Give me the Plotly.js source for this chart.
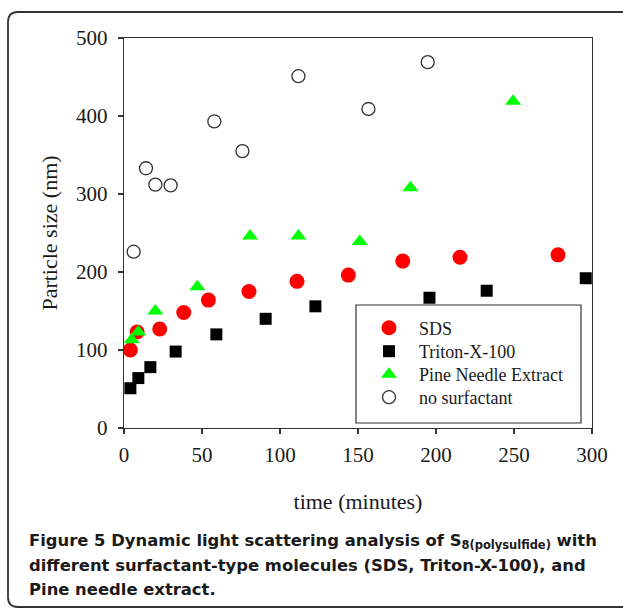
<!DOCTYPE html>
<html>
<head>
<meta charset="utf-8">
<script src="https://cdn.plot.ly/plotly-3.0.1.min.js"></script>
<style>
  html, body { margin: 0; padding: 0; background: #fff; }
  #chart { width: 623px; height: 611px; }
</style>
</head>
<body>
<div id="chart"></div>
<script>
// ---- data ----
const sdsTime    = [4.1, 8.4, 22.9, 38.3, 54.1, 80.1, 110.9, 143.8, 178.7, 215.4, 278.2];
const sdsSize    = [100, 123, 127, 148, 164, 175, 188, 196, 214, 219, 222];

const tritonTime = [4.1, 9.2, 16.9, 33.1, 59.2, 90.8, 122.7, 195.8, 232.5, 296];
const tritonSize = [51, 64, 78, 98, 120, 140, 156, 167, 176, 192];

const pineTime   = [4.9, 9.2, 20.1, 47.0, 80.8, 111.8, 151.1, 183.6, 249.4];
const pineSize   = [113, 123, 150, 181, 246, 246, 239, 308, 419];

const noneTime   = [6.2, 14.1, 20.1, 29.9, 57.9, 75.9, 111.8, 156.7, 194.7];
const noneSize   = [226, 333, 312, 311, 393, 355, 451, 409, 469];

const seriesNames = ["SDS", "Triton-X-100", "Pine Needle Extract", "no surfactant"];
const xTicks = [0, 50, 100, 150, 200, 250, 300];
const yTicks = [0, 100, 200, 300, 400, 500];

const xTitle = "time (minutes)";
const yTitle = "Particle size (nm)";
const captionLines = [
  "<b>Figure 5</b> Dynamic light scattering analysis of S<sub>8(polysulfide)</sub> with",
  "different surfactant-type molecules (SDS, Triton-X-100), and",
  "Pine needle extract."
];

// ---- layout geometry ----
const W = 623, H = 611;
const M = {l: 124, r: 31, t: 38, b: 183};
const PW = W - M.l - M.r, PH = H - M.t - M.b;
const px = p => (p - M.l) / PW;
const py = p => (H - M.b - p) / PH;

const serif = "Liberation Serif, Times New Roman, serif";
const legendIds = ["legend", "legend2", "legend3", "legend4"];
const legendRowY = [328, 351.5, 374.5, 397.5];

const traces = [
  {x: sdsTime, y: sdsSize, name: seriesNames[0], type: "scatter", mode: "markers", legend: legendIds[0],
   marker: {symbol: "circle", size: 15, color: "#ff0000"}},
  {x: tritonTime, y: tritonSize, name: seriesNames[1], type: "scatter", mode: "markers", legend: legendIds[1],
   marker: {symbol: "square", size: 12, color: "#000000"}},
  {x: pineTime, y: pineSize, name: seriesNames[2], type: "scatter", mode: "markers", legend: legendIds[2],
   marker: {symbol: "triangle-up", size: 14, color: "#00ff00"}},
  {x: noneTime, y: noneSize, name: seriesNames[3], type: "scatter", mode: "markers", legend: legendIds[3],
   marker: {symbol: "circle-open", size: 13, color: "#333333", line: {width: 1.3, color: "#333333"}}}
];

// rounded outer frame (extends past the right edge)
const fx0 = 8, fy0 = 12, fx1 = 660, fy1 = 607, rad = 10;
const framePath =
  `M ${px(fx0 + rad)} ${py(fy0)} L ${px(fx1)} ${py(fy0)} ` +
  `M ${px(fx0 + rad)} ${py(fy0)} Q ${px(fx0)} ${py(fy0)} ${px(fx0)} ${py(fy0 + rad)} ` +
  `L ${px(fx0)} ${py(fy1 - rad)} Q ${px(fx0)} ${py(fy1)} ${px(fx0 + rad)} ${py(fy1)} ` +
  `L ${px(fx1)} ${py(fy1)}`;

const captionY = [541, 565, 589];

const layout = {
  width: W, height: H,
  margin: M,
  paper_bgcolor: "#ffffff",
  plot_bgcolor: "#ffffff",
  showlegend: true,
  font: {family: serif, color: "#1a1a1a"},
  xaxis: {
    range: [0, 300], tickvals: xTicks, ticktext: xTicks.map(String),
    showgrid: false, zeroline: false,
    showline: true, linecolor: "#333333", linewidth: 1.3, mirror: true,
    ticks: "outside", ticklen: 5, tickwidth: 1.2, tickcolor: "#333333",
    tickfont: {family: serif, size: 21, color: "#1a1a1a"},
    ticklabelstandoff: 2,
    title: {text: xTitle, font: {family: serif, size: 22, color: "#1a1a1a"}, standoff: 28},
    automargin: false, fixedrange: true
  },
  yaxis: {
    range: [0, 500], tickvals: yTicks, ticktext: yTicks.map(String),
    showgrid: false, zeroline: false,
    showline: true, linecolor: "#333333", linewidth: 1.3, mirror: true,
    ticks: "outside", ticklen: 5, tickwidth: 1.2, tickcolor: "#333333",
    tickfont: {family: serif, size: 21, color: "#1a1a1a"},
    ticklabelstandoff: 6,
    title: {text: yTitle, font: {family: serif, size: 22, color: "#1a1a1a"}, standoff: 12},
    automargin: false, fixedrange: true
  },
  shapes: [
    {type: "rect", xref: "paper", yref: "paper",
     x0: px(356), x1: px(581), y0: py(305), y1: py(423),
     line: {color: "#333333", width: 1.2}, fillcolor: "rgba(0,0,0,0)", layer: "above"},
    {type: "path", xref: "paper", yref: "paper", path: framePath,
     line: {color: "#333333", width: 1.8}, layer: "above"}
  ],
  annotations: captionLines.map((t, i) => ({
    text: t, xref: "paper", yref: "paper",
    x: px(27), y: py(captionY[i]), xanchor: "left", yanchor: "middle",
    showarrow: false, align: "left",
    font: {family: "DejaVu Sans, sans-serif", size: 16.4, color: "#1a1a1a", weight: "bold"}
  }))
};

legendIds.forEach((id, i) => {
  layout[id] = {
    x: px(359), y: py(legendRowY[i]), xanchor: "left", yanchor: "middle",
    bgcolor: "rgba(0,0,0,0)", borderwidth: 0, itemwidth: 50,
    font: {family: serif, size: 18, color: "#1a1a1a"},
    itemclick: false, itemdoubleclick: false
  };
});

Plotly.newPlot("chart", traces, layout, {displayModeBar: false, staticPlot: true});
</script>
</body>
</html>
